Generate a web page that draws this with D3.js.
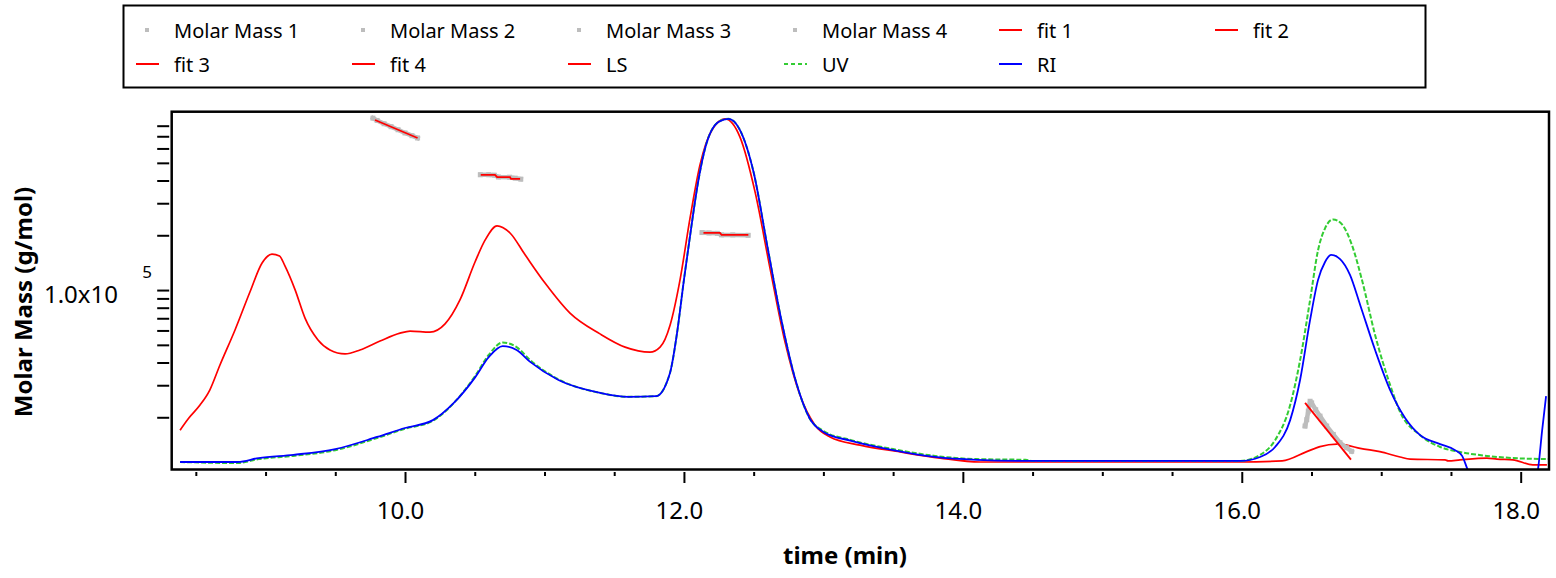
<!DOCTYPE html>
<html>
<head>
<meta charset="utf-8">
<script src="https://cdn.jsdelivr.net/npm/d3@7"></script>
<style>
body { margin: 0; background: #fff; }
text { font-family: "Noto Sans", "Open Sans", sans-serif; }
</style>
</head>
<body>
<div id="chart"></div>
<script>
//*************
// Chromatogram data
//*************

// LS detector (red), relative signal
var lsTime = [8.387, 8.45, 8.53, 8.60, 8.673, 8.781, 8.888, 8.975, 9.046, 9.10, 9.139, 9.212, 9.283, 9.376, 9.462, 9.570, 9.677, 9.821, 9.964, 10.036, 10.179, 10.287, 10.394, 10.502, 10.574, 10.660, 10.753, 10.861, 11.004, 11.183, 11.398, 11.578, 11.757, 11.829, 11.901, 11.972, 12.044, 12.115, 12.201, 12.295, 12.402, 12.510, 12.617, 12.725, 12.832, 12.940, 13.048, 13.263, 13.550, 13.837, 14.123, 15.988, 16.29, 16.466, 16.561, 16.681, 16.752, 16.849, 16.99, 17.135, 17.207, 17.458, 17.48, 17.565, 17.758, 17.83, 17.944, 18.087, 18.188];
var lsValue = [11.0, 14.4, 18.0, 22.2, 29.2, 39.0, 49.6, 57.7, 60.2, 59.7, 56.9, 50.2, 42.3, 36.2, 33.4, 32.3, 33.4, 35.9, 38.1, 38.7, 38.4, 40.7, 47.4, 58.0, 64.1, 68.1, 66.1, 60.0, 52.1, 43.7, 37.9, 34.2, 32.8, 34.2, 40.4, 53.0, 70.3, 85.1, 94.9, 98.0, 92.9, 77.6, 56.3, 35.6, 20.8, 12.4, 9.1, 6.8, 4.9, 3.2, 2.1, 2.1, 2.4, 5.0, 6.4, 7.1, 6.8, 5.9, 5.0, 3.5, 2.9, 2.7, 2.4, 2.7, 3.2, 2.9, 2.7, 1.3, 1.3];

// RI detector (blue)
var riTime = [8.387, 8.8, 8.95, 9.2, 9.5, 9.8, 10.0, 10.2, 10.35, 10.5, 10.6, 10.7, 10.8, 10.9, 11.1, 11.4, 11.6, 11.8, 11.9, 11.95, 12.0, 12.05, 12.1, 12.15, 12.25, 12.32, 12.4, 12.5, 12.6, 12.7, 12.8, 12.9, 13.0, 13.2, 13.5, 13.8, 14.1, 14.5, 15.988, 16.132, 16.239, 16.347, 16.418, 16.490, 16.547, 16.597, 16.640, 16.705, 16.776, 16.849, 16.956, 17.064, 17.171, 17.279, 17.422, 17.530, 17.580, 17.616, 17.65, 18.11, 18.125, 18.154, 18.182];
var riValue = [2.1, 2.1, 3.2, 4.1, 5.7, 9.1, 11.6, 13.8, 18.6, 25.6, 31.4, 34.5, 33.4, 30.0, 25.0, 21.4, 20.3, 20.5, 27.0, 38.0, 53.0, 67.0, 80.0, 89.5, 97.2, 98.0, 95.0, 83.0, 62.0, 41.5, 25.0, 14.4, 10.5, 8.0, 5.4, 3.5, 2.7, 2.4, 2.4, 3.5, 6.3, 13.8, 25.0, 41.8, 53.0, 58.0, 60.0, 58.8, 54.4, 46.0, 33.4, 22.2, 14.4, 9.6, 7.1, 5.4, 3.8, 0.3, -3, -3, 0.3, 11.0, 20.5];

// UV detector (green, dashed)
var uvTime = [8.387, 8.8, 8.95, 9.2, 9.5, 9.8, 10.0, 10.2, 10.35, 10.5, 10.6, 10.7, 10.8, 10.9, 11.1, 11.4, 11.6, 11.8, 11.9, 11.95, 12.0, 12.05, 12.1, 12.15, 12.25, 12.32, 12.4, 12.5, 12.6, 12.7, 12.8, 12.9, 13.0, 13.2, 13.5, 13.8, 14.1, 14.45, 14.5, 15.988, 16.132, 16.239, 16.347, 16.418, 16.490, 16.547, 16.597, 16.655, 16.719, 16.791, 16.863, 16.956, 17.064, 17.135, 17.279, 17.422, 17.565, 17.758, 17.944, 18.203];
var uvValue = [2.1, 1.8, 2.9, 3.8, 5.4, 8.8, 11.4, 13.6, 18.6, 26.0, 32.0, 35.5, 34.2, 30.5, 25.2, 21.4, 20.3, 20.5, 27.0, 38.0, 53.0, 67.0, 80.0, 89.5, 97.2, 98.0, 95.0, 83.0, 62.0, 41.5, 25.0, 14.4, 10.8, 8.2, 5.7, 3.8, 2.9, 2.7, 2.4, 2.4, 4.1, 8.2, 18.0, 30.5, 47.4, 61.3, 67.4, 69.9, 68.5, 62.6, 52.8, 37.6, 23.6, 16.1, 9.6, 6.3, 4.9, 3.8, 3.2, 2.9];

// Molar mass points (g/mol)
var mm1Time = [9.77, 9.80, 9.85, 9.90, 9.95, 10.00, 10.05, 10.09];
var mm1Mass = [8.8e5, 8.55e5, 8.2e5, 7.9e5, 7.6e5, 7.3e5, 7.05e5, 6.85e5];
var mm2Time = [10.54, 10.60, 10.64, 10.67, 10.75, 10.79, 10.83];
var mm2Mass = [4.30e5, 4.30e5, 4.28e5, 4.18e5, 4.17e5, 4.12e5, 4.07e5];
var mm3Time = [12.13, 12.18, 12.24, 12.27, 12.35, 12.46];
var mm3Mass = [2.07e5, 2.06e5, 2.05e5, 2.01e5, 2.01e5, 2.00e5];
var mm4Time = [16.454, 16.466, 16.477, 16.49, 16.501, 16.53, 16.561, 16.609, 16.656, 16.704, 16.752, 16.788];
var mm4Mass = [1.79e4, 1.94e4, 2.16e4, 2.45e4, 2.40e4, 2.2e4, 2.03e4, 1.79e4, 1.61e4, 1.45e4, 1.36e4, 1.30e4];

// Fits
var fit1Time = [9.785, 10.09];
var fit1Mass = [8.6e5, 6.85e5];
var fit2Time = [10.543, 10.645, 10.66, 10.753, 10.76, 10.825];
var fit2Mass = [4.29e5, 4.29e5, 4.18e5, 4.17e5, 4.08e5, 4.08e5];
var fit3Time = [12.14, 12.258, 12.27, 12.462];
var fit3Mass = [2.06e5, 2.06e5, 2.01e5, 2.01e5];
var fit4Time = [16.454, 16.783];
var fit4Mass = [2.40e4, 1.17e4];

// Axis ticks
var xTicks = [8.5, 9, 9.5, 10, 10.5, 11, 11.5, 12, 12.5, 13, 13.5, 14, 14.5, 15, 15.5, 16, 16.5, 17, 17.5, 18];
var xMajor = [10, 12, 14, 16, 18];
var yTicks = [2e4, 3e4, 4e4, 5e4, 6e4, 7e4, 8e4, 9e4, 1e5, 2e5, 3e5, 4e5, 5e5, 6e5, 7e5, 8e5];

var legendNames = ["Molar Mass 1", "Molar Mass 2", "Molar Mass 3", "Molar Mass 4", "fit 1", "fit 2", "fit 3", "fit 4", "LS", "UV", "RI"];
var legendKinds = ["point", "point", "point", "point", "fit", "fit", "fit", "fit", "ls", "uv", "ri"];

//*************
// Drawing
//*************

var W = 1556, H = 578;
var box = { left: 171.7, right: 1549, top: 111.7, bottom: 469.5 };

var colors = { fit: "#ff0000", ls: "#ff0000", uv: "#33cc33", ri: "#0000ff", point: "#bdbdbd" };

var svg = d3.select("#chart").append("svg")
	.attr("width", W)
	.attr("height", H);

var x = d3.scaleLinear().domain([8.327, 18.203]).range([box.left, box.right]);
var yMass = d3.scaleLog().domain([1.033e4, 9.55e5]).range([box.bottom, box.top]);
var ySig = d3.scaleLinear().domain([0, 100]).range([box.bottom, box.top]);

svg.append("clipPath").attr("id", "plotclip")
	.append("rect")
	.attr("x", box.left).attr("y", box.top)
	.attr("width", box.right - box.left)
	.attr("height", box.bottom - box.top);

var plot = svg.append("g").attr("clip-path", "url(#plotclip)");

function pairs(ts, vs) {
	return ts.map(function(t, i) { return [t, vs[i]]; });
}

var sigLine = d3.line()
	.x(function(d) { return x(d[0]); })
	.y(function(d) { return ySig(d[1]); })
	.curve(d3.curveMonotoneX);

var massLine = d3.line()
	.x(function(d) { return x(d[0]); })
	.y(function(d) { return yMass(d[1]); });

// detector traces
plot.append("path").datum(pairs(lsTime, lsValue))
	.attr("d", sigLine).attr("fill", "none")
	.attr("stroke", colors.ls).attr("stroke-width", 1.7);

plot.append("path").datum(pairs(uvTime, uvValue))
	.attr("d", sigLine).attr("fill", "none")
	.attr("stroke", colors.uv).attr("stroke-width", 2)
	.attr("stroke-dasharray", "5,2");

plot.append("path").datum(pairs(riTime, riValue))
	.attr("d", sigLine).attr("fill", "none")
	.attr("stroke", colors.ri).attr("stroke-width", 1.8);

// molar mass points: grey halo + squares
[[mm1Time, mm1Mass], [mm2Time, mm2Mass], [mm3Time, mm3Mass], [mm4Time, mm4Mass]].forEach(function(s) {
	var pts = pairs(s[0], s[1]);
	plot.append("path").datum(pts)
		.attr("d", massLine).attr("fill", "none")
		.attr("stroke", colors.point).attr("stroke-width", 4.5)
		.attr("stroke-linejoin", "round").attr("stroke-linecap", "square");
	plot.selectAll(null).data(pts).enter()
		.append("rect")
		.attr("x", function(d) { return x(d[0]) - 2.5; })
		.attr("y", function(d) { return yMass(d[1]) - 2.5; })
		.attr("width", 5).attr("height", 5)
		.attr("fill", colors.point);
});

// fits
[[fit1Time, fit1Mass], [fit2Time, fit2Mass], [fit3Time, fit3Mass], [fit4Time, fit4Mass]].forEach(function(s) {
	plot.append("path").datum(pairs(s[0], s[1]))
		.attr("d", massLine).attr("fill", "none")
		.attr("stroke", colors.fit).attr("stroke-width", 1.8);
});

// frame
svg.append("rect")
	.attr("x", box.left).attr("y", box.top)
	.attr("width", box.right - box.left)
	.attr("height", box.bottom - box.top)
	.attr("fill", "none").attr("stroke", "#000").attr("stroke-width", 2.5);

// x axis
var xAxis = svg.append("g")
	.attr("transform", "translate(0," + (box.bottom + 2.5) + ")")
	.call(d3.axisBottom(x).tickValues(xTicks).tickSize(11).tickSizeOuter(0)
		.tickFormat(function(d) { return xMajor.indexOf(d) >= 0 ? d3.format(".1f")(d) : ""; }));
xAxis.select(".domain").remove();
xAxis.selectAll(".tick line")
	.attr("stroke-width", 2)
	.attr("y2", function(d) { return xMajor.indexOf(d) >= 0 ? 11 : 4; });
xAxis.selectAll(".tick text")
	.attr("y", 0).attr("dy", 0)
	.attr("transform", "translate(-5,47)")
	.attr("font-size", 24).attr("fill", "#000")
	.attr("font-family", "Noto Sans");

// y axis
var yAxis = svg.append("g")
	.attr("transform", "translate(" + (box.left - 2.5) + ",0)")
	.call(d3.axisLeft(yMass).tickValues(yTicks).tickSize(12).tickSizeOuter(0).tickFormat(""));
yAxis.select(".domain").remove();
yAxis.selectAll(".tick line").attr("stroke-width", 2);

svg.append("text")
	.attr("x", 118).attr("y", yMass(1e5) + 13)
	.attr("text-anchor", "end")
	.attr("font-size", 24)
	.text("1.0x10");
svg.append("text")
	.attr("x", 147).attr("y", yMass(1e5) - 12)
	.attr("text-anchor", "middle")
	.attr("font-size", 17)
	.text("5");

// axis titles
svg.append("text")
	.attr("transform", "translate(22," + 302 + ") rotate(-90)")
	.attr("text-anchor", "middle")
	.attr("dominant-baseline", "central")
	.attr("font-size", 24).attr("font-weight", "bold")
	.text("Molar Mass (g/mol)");

svg.append("text")
	.attr("x", 845).attr("y", 564)
	.attr("text-anchor", "middle")
	.attr("font-size", 24).attr("font-weight", "bold")
	.text("time (min)");

//*************
// Legend
//*************

svg.append("rect")
	.attr("x", 123.5).attr("y", 5.5)
	.attr("width", 1302).attr("height", 82)
	.attr("fill", "none").attr("stroke", "#000").attr("stroke-width", 2);

var colX = [174, 390, 606, 822, 1037, 1253];
var rowY = [38, 72];

legendNames.forEach(function(name, i) {
	var tx = colX[i % 6], ty = rowY[Math.floor(i / 6)];
	var kind = legendKinds[i];
	var cy = ty - 8;
	if (kind == "point") {
		svg.append("rect")
			.attr("x", tx - 29).attr("y", cy - 2)
			.attr("width", 4).attr("height", 4)
			.attr("fill", colors.point);
	} else {
		var seg = svg.append("line")
			.attr("x1", tx - 38).attr("x2", tx - 15)
			.attr("y1", cy).attr("y2", cy)
			.attr("stroke", colors[kind]).attr("stroke-width", 2);
		if (kind == "uv") seg.attr("stroke-dasharray", "4,3");
	}
	svg.append("text")
		.attr("x", tx).attr("y", ty)
		.attr("font-size", 20)
		.text(name);
});
</script>
</body>
</html>
